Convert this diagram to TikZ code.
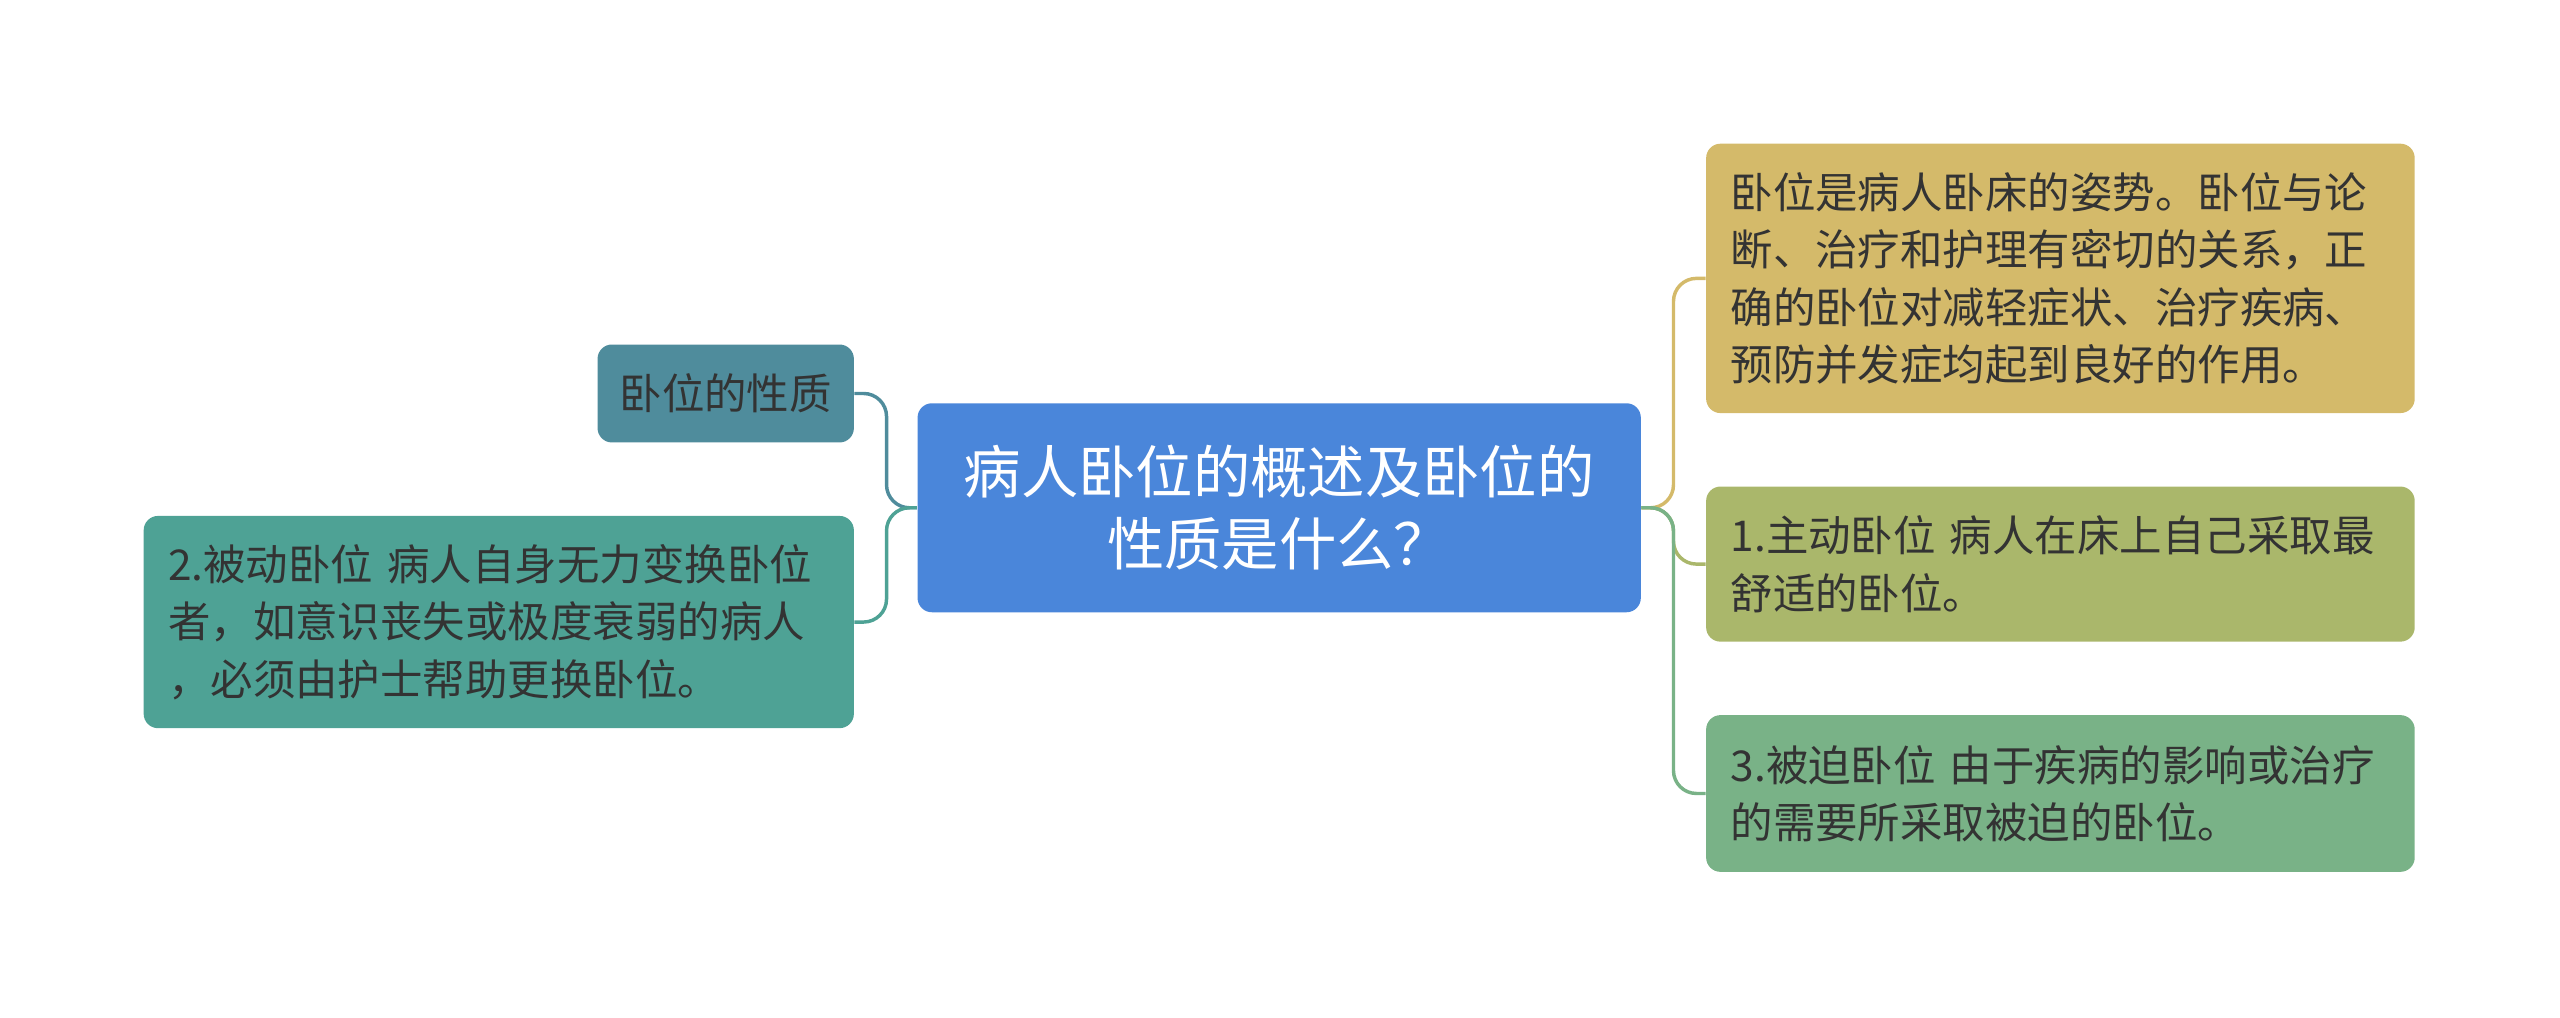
\documentclass[tikz,border=0pt]{standalone}
\usepackage{fontspec}
\setmainfont{Noto Sans CJK SC}
\begin{document}
\begin{tikzpicture}[x=0.02cm,y=-0.02cm,
 box/.style={draw=none,rounded corners=5pt,inner sep=0pt,anchor=north west,align=left,font=\fontsize{14.8pt}{20pt}\selectfont,text=black!80},
 conn/.style={line width=1.2pt,rounded corners=8pt}]
\useasboundingbox (0,0) rectangle (1568,623);
\definecolor{cblue}{HTML}{4A86DA}
\definecolor{cteal1}{HTML}{4F8C9C}
\definecolor{cteal2}{HTML}{4EA295}
\definecolor{cyel}{HTML}{D4BA6A}
\definecolor{coliv}{HTML}{AAB76B}
\definecolor{cgrn}{HTML}{79B287}
\node[box,fill=cblue,minimum width=443*0.02cm,minimum height=128*0.02cm,align=center,anchor=center,text=white,font=\fontsize{20pt}{25pt}\selectfont] (c) at (783.5,311) {病人卧位的概述及卧位的\\性质是什么？};
\node[box,fill=cteal1,minimum width=157*0.02cm,minimum height=60*0.02cm,anchor=center,align=center] (l1) at (444.5,241) {卧位的性质};
\node[box,fill=cteal2,minimum width=435*0.02cm,minimum height=130*0.02cm,anchor=center,text width=405*0.02cm] (l2) at (305.5,381) {2.被动卧位 病人自身无力变换卧位\\者，如意识丧失或极度衰弱的病人\\，必须由护士帮助更换卧位。};
\node[box,fill=cyel,minimum width=434*0.02cm,minimum height=165*0.02cm,anchor=center,text width=404*0.02cm] (r1) at (1262,170.5) {卧位是病人卧床的姿势。卧位与论\\断、治疗和护理有密切的关系，正\\确的卧位对减轻症状、治疗疾病、\\预防并发症均起到良好的作用。};
\node[box,fill=coliv,minimum width=434*0.02cm,minimum height=95*0.02cm,anchor=center,text width=404*0.02cm] (r2) at (1262,345.5) {1.主动卧位 病人在床上自己采取最\\舒适的卧位。};
\node[box,fill=cgrn,minimum width=434*0.02cm,minimum height=96*0.02cm,anchor=center,text width=404*0.02cm] (r3) at (1262,486) {3.被迫卧位 由于疾病的影响或治疗\\的需要所采取被迫的卧位。};
\coordinate (rj) at (1025,311);
\coordinate (lj) at (543,311);
\draw[conn,cyel] (c.east) -- (rj) |- (r1.west);
\draw[conn,coliv] (c.east) -- (rj) |- (r2.west);
\draw[conn,cgrn] (c.east) -- (rj) |- (r3.west);
\draw[conn,cteal1] (c.west) -- (lj) |- (l1.east);
\draw[conn,cteal2] (c.west) -- (lj) |- (l2.east);
\end{tikzpicture}
\end{document}
